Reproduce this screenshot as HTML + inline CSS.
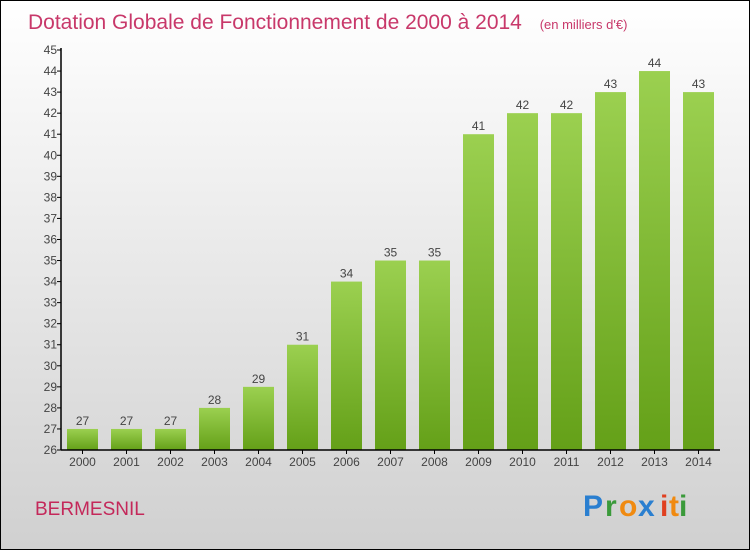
<!DOCTYPE html>
<html><head><meta charset="utf-8"><style>
body{margin:0;width:750px;height:550px;overflow:hidden;font-family:"Liberation Sans",sans-serif}
</style></head><body>
<svg width="750" height="550" xmlns="http://www.w3.org/2000/svg">
<defs>
<linearGradient id="bg" x1="0" y1="0" x2="0" y2="1"><stop offset="0" stop-color="#ffffff"/><stop offset="1" stop-color="#d0d0d0"/></linearGradient>
<linearGradient id="bar" x1="0" y1="0" x2="0" y2="1"><stop offset="0" stop-color="#9bd050"/><stop offset="1" stop-color="#64a018"/></linearGradient>
</defs>
<rect x="0.5" y="0.5" width="749" height="549" fill="url(#bg)" stroke="#000"/>
<text x="28" y="29" font-size="21" fill="#c8386a">Dotation Globale de Fonctionnement de 2000 à 2014 <tspan font-size="13" dx="12">(en milliers d'€)</tspan></text>
<g id="yaxis"></g><g id="bars"></g><g id="xaxis"></g>
<text x="35" y="515" font-size="19" fill="#c4285a">BERMESNIL</text>
<g font-size="30" font-weight="bold">
<text x="583" y="516" fill="#2a7fd0">P</text><text x="605" y="516" fill="#3a9a3a">r</text><text x="619" y="516" fill="#f08a10">o</text><text x="638" y="516" fill="#2a7fd0">x</text><text x="660" y="516" fill="#e04020">i</text><text x="669" y="516" fill="#f08a10">t</text><text x="679" y="516" fill="#3a9a3a">i</text>
</g>
</svg>
<script>
const years=["2000","2001","2002","2003","2004","2005","2006","2007","2008","2009","2010","2011","2012","2013","2014"];
const values=[27,27,27,28,29,31,34,35,35,41,42,42,43,44,43];
const yTicks=[26,27,28,29,30,31,32,33,34,35,36,37,38,39,40,41,42,43,44,45];
const NS="http://www.w3.org/2000/svg";
const y0=450,yTop=50,vMin=26,vMax=45,x0=61,step=44,bw=31;
function yS(v){return y0-(v-vMin)*(y0-yTop)/(vMax-vMin);}
function xC(i){return 82.5+i*step;}
function mk(t,a,p){const e=document.createElementNS(NS,t);for(const k in a)e.setAttribute(k,a[k]);p.appendChild(e);return e;}
const ya=document.getElementById('yaxis'),ba=document.getElementById('bars'),xa=document.getElementById('xaxis');
yTicks.forEach(v=>{
 const l=mk('line',{x1:x0-4,x2:x0,y1:yS(v),y2:yS(v),stroke:'#000'},ya);
 
 
 const t=mk('text',{x:x0-4,y:yS(v)+4,'text-anchor':'end','font-size':12,fill:'#444'},ya);t.textContent=v;
 
 
});
values.forEach((v,i)=>{
 const r=mk('rect',{x:xC(i)-bw/2,y:yS(v),width:bw,height:y0-yS(v),fill:'url(#bar)'},ba);
 
 
 const t=mk('text',{x:xC(i),y:yS(v)-4,'text-anchor':'middle','font-size':12,fill:'#444'},ba);t.textContent=v;
 
 
 const k=mk('line',{x1:xC(i),x2:xC(i),y1:y0,y2:y0+4,stroke:'#000'},xa);
 
 
 const yl=mk('text',{x:xC(i),y:y0+16,'text-anchor':'middle','font-size':12,fill:'#444'},xa);yl.textContent=years[i];
 
 
});
const ax=mk('line',{x1:x0,x2:x0,y1:yTop-2,y2:y0,stroke:'#000','stroke-width':1.5},ya);


const xl=mk('line',{x1:x0,x2:720,y1:y0,y2:y0,stroke:'#000','stroke-width':1.5},xa);


</script>
</body></html>
